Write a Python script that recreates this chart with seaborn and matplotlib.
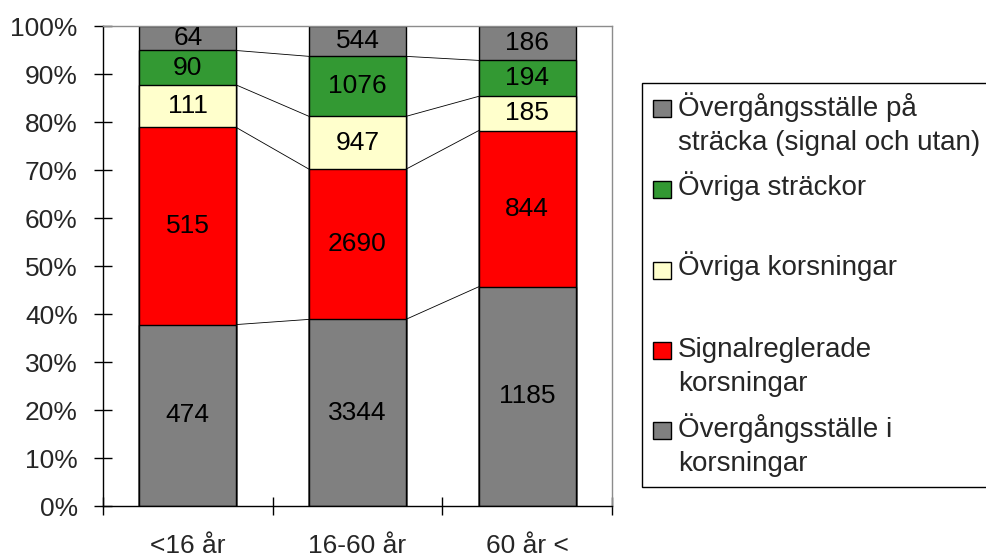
import numpy as np
import matplotlib
matplotlib.use("Agg")
import matplotlib.pyplot as plt
import seaborn as sns
from matplotlib.patches import Rectangle

# Age groups on the x axis
categories = ["<16 år", "16-60 år", "60 år <"]

# Counts per location type, listed from the bottom of each stack to the top
korsning_overgang = [474, 3344, 1185]
signalreglerade = [515, 2690, 844]
ovriga_korsningar = [111, 947, 185]
ovriga_strackor = [90, 1076, 194]
stracka_overgang = [64, 544, 186]

series_labels = [
    ["Övergångsställe i", "korsningar"],
    ["Signalreglerade", "korsningar"],
    ["Övriga korsningar"],
    ["Övriga sträckor"],
    ["Övergångsställe på", "sträcka (signal och utan)"],
]
colors = ["#808080", "#FF0000", "#FFFFCC", "#339933", "#808080"]

sns.set_style("white")
plt.rcParams["font.family"] = ["Liberation Sans", "DejaVu Sans"]
plt.rcParams["font.size"] = 19

W, H = 987, 559
fig = plt.figure(figsize=(W / 100, H / 100), dpi=100)
ax = fig.add_axes([103 / W, 1 - 506 / H, (612 - 103) / W, (506 - 26) / H])

counts = np.array([korsning_overgang, signalreglerade, ovriga_korsningar,
                   ovriga_strackor, stracka_overgang], dtype=float)
pct = counts / counts.sum(axis=0) * 100
cum = np.cumsum(pct, axis=0)

bar_w = 0.57
# Stacked 100% bars: draw the tallest cumulative layer first, overlay the rest
for k in reversed(range(len(counts))):
    sns.barplot(x=categories, y=cum[k], color=colors[k], edgecolor="black",
                linewidth=1.0, width=bar_w, saturation=1, errorbar=None, ax=ax)

# Value labels centred in each segment
for k in range(len(counts)):
    for i in range(len(categories)):
        ax.text(i, cum[k][i] - pct[k][i] / 2, f"{int(counts[k][i])}",
                ha="center", va="center", fontsize=19, color="black")

# Series lines joining segment boundaries between neighbouring bars
half = bar_w / 2
for k in range(len(counts) - 1):
    for i in range(len(categories) - 1):
        ax.plot([i + half, i + 1 - half], [cum[k][i], cum[k][i + 1]],
                color="black", lw=0.6)

ax.set_xlim(-0.5, 2.5)
ax.set_ylim(0, 100)
ax.set_xlabel("")
ax.set_ylabel("")
yt = list(range(0, 101, 10))
ax.set_yticks(yt)
ax.set_yticklabels([f"{v}%" for v in yt])
ax.set_xticks(range(len(categories)))
ax.set_xticklabels(categories)
ax.set_xticks([-0.5, 0.5, 1.5, 2.5], minor=True)

ax.tick_params(axis="y", direction="inout", length=13.5, width=1.0,
               color="black", pad=11.5, labelsize=19, left=True)
ax.tick_params(axis="x", which="major", length=0, pad=20.5, labelsize=19)
ax.tick_params(axis="x", which="minor", direction="inout", length=13.5,
               width=1.0, color="black", bottom=True)

for side in ["left", "bottom"]:
    ax.spines[side].set_color("black")
    ax.spines[side].set_linewidth(1.0)
for side in ["top", "right"]:
    ax.spines[side].set_color("#8c8c8c")
    ax.spines[side].set_linewidth(1.0)
ax.grid(False)


def fx(px):
    return px / W


def fy(py):
    return 1 - py / H


# Legend box on the right (runs past the figure edge), top series listed first
fig.add_artist(Rectangle((fx(642), fy(487)), fx(1150) - fx(642), fy(83) - fy(487),
                         transform=fig.transFigure, facecolor="white",
                         edgecolor="black", linewidth=1.0))
square_tops = [100, 181, 262, 342, 422]
baselines = [[116, 150], [195], [275], [357, 391], [437, 471]]
for j, k in enumerate(reversed(range(len(counts)))):
    top = square_tops[j]
    fig.add_artist(Rectangle((fx(653), fy(top + 17)), fx(671) - fx(653), fy(top) - fy(top + 17),
                             transform=fig.transFigure, facecolor=colors[k],
                             edgecolor="black", linewidth=1.0))
    for line, b in zip(series_labels[k], baselines[j]):
        fig.text(fx(678), fy(b), line, ha="left", va="baseline", fontsize=20)

fig.savefig("out.png", dpi=100)
